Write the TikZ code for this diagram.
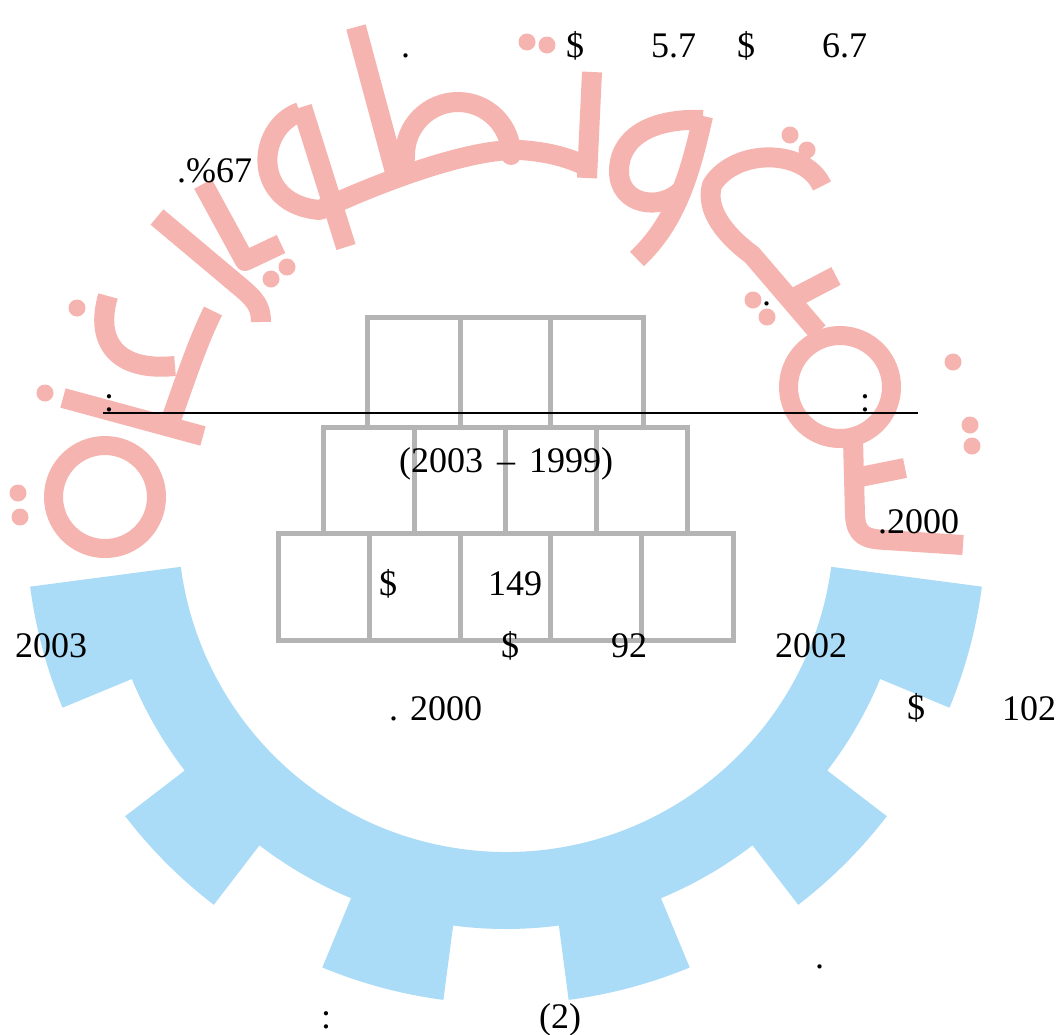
\documentclass[tikz,border=0pt]{standalone}
\usepackage{fontspec}
\setmainfont{Liberation Serif}
\definecolor{logored}{RGB}{245,180,175}
\definecolor{gearblue}{RGB}{170,220,248}
\definecolor{boxgray}{RGB}{180,180,180}
\tikzset{
  redstroke/.style={draw=logored, line width=20pt, line join=round},
  reddot/.style={fill=logored},
  boxline/.style={draw=boxgray, line width=5pt},
  txt/.style={anchor=base west, inner sep=0pt, font=\fontsize{36}{43}\selectfont}
}
\begin{document}
\begin{tikzpicture}[x=1pt,y=-1pt]
\useasboundingbox (0,0) rectangle (1064,1034);
\fill[white] (0,0) rectangle (1064,1034);

% gear
\begin{scope}[shift={(506,524)}]
\fill[gearblue] (172.5:328) -- (172.5:480)
  arc[start angle=172.5, end angle=157.5, radius=480] -- (157.5:405)
  arc[start angle=157.5, end angle=142.5, radius=405] -- (142.5:480)
  arc[start angle=142.5, end angle=127.5, radius=480] -- (127.5:405)
  arc[start angle=127.5, end angle=112.5, radius=405] -- (112.5:480)
  arc[start angle=112.5, end angle=97.5, radius=480] -- (97.5:405)
  arc[start angle=97.5, end angle=82.5, radius=405] -- (82.5:480)
  arc[start angle=82.5, end angle=67.5, radius=480] -- (67.5:405)
  arc[start angle=67.5, end angle=52.5, radius=405] -- (52.5:480)
  arc[start angle=52.5, end angle=37.5, radius=480] -- (37.5:405)
  arc[start angle=37.5, end angle=22.5, radius=405] -- (22.5:480)
  arc[start angle=22.5, end angle=7.5, radius=480] -- (7.5:328)
  arc[start angle=7.5, end angle=172.5, radius=328] -- cycle;
\end{scope}

% red logo strokes
\draw[redstroke, line width=19pt] (105,497) circle[radius=51.5];
\draw[redstroke, line width=19pt] (840,387) circle[radius=51.5];
\draw[redstroke] (63,398) -- (203,436);
\draw[redstroke] (213,311) .. controls (196,345) and (182,390) .. (168,428);
\draw[redstroke] (108,296) .. controls (95,340) and (115,372) .. (175,366);
\draw[redstroke] (157,217) -- (238,285) .. controls (255,299) and (261,306) .. (261,322);
\draw[redstroke] (203,184) -- (245,261) -- (281,244);
\draw[redstroke] (302,107) -- (346,247);
\draw[redstroke] (300,112) .. controls (255,128) and (252,205) .. (320,210)
  .. controls (380,182) and (470,148) .. (520,150)
  .. controls (550,152) and (570,158) .. (590,168);
\draw[redstroke] (592,72) -- (587,178);
\draw[redstroke] (356,27) -- (395,172);
\draw[redstroke] (404,172) -- (405,155) arc[start angle=180, end angle=360, radius=53] -- (511,152);
\draw[redstroke] (703,116) .. controls (690,175) and (676,222) .. (637,259);
\draw[redstroke] (703,120) .. controls (655,118) and (620,135) .. (619,170)
  .. controls (618,205) and (660,212) .. (682,190);
\draw[redstroke] (822,186) .. controls (805,148) and (735,148) .. (712,185)
  .. controls (705,210) and (725,235) .. (752,255) -- (818,332);
\draw[redstroke] (790,300) -- (836,276);
\draw[redstroke] (853,440) -- (855,515) .. controls (856,536) and (866,539) .. (886,540) -- (963,545);
\draw[redstroke] (855,478) -- (905,468);
\foreach \p in {(18,493),(20,517),(45,393),(77,308),(271,279),(287,267),(527,42),(547,45),(790,135),(807,150),(753,300),(767,317),(953,362),(970,425),(972,446)}
  \fill[reddot] \p circle[radius=8.5];

% gray boxes
\draw[boxline] (367,317) rectangle (643,427);
\draw[boxline] (460,317) -- (460,427) (550,317) -- (550,427);
\draw[boxline] (323,427) rectangle (687,533);
\draw[boxline] (414,427) -- (414,533) (505,427) -- (505,533) (596,427) -- (596,533);
\draw[boxline] (278,533) rectangle (733,640);
\draw[boxline] (369,533) -- (369,640) (460,533) -- (460,640) (550,533) -- (550,640) (641,533) -- (641,640);

% black rule
\coordinate (ruleL) at (103,413);
\coordinate (ruleR) at (918,413);
\draw[black, line width=2pt] (ruleL) -- (ruleR);

% texts
\node[txt] (t1) at (401,57) {.};
\node[txt] (t2) at (566,57) {\$};
\node[txt] (t3) at (651,57) {5.7};
\node[txt] (t4) at (737,57) {\$};
\node[txt] (t5) at (822,57) {6.7};
\node[txt] (t6) at (177,182) {.\%67};
\node[txt] (t7) at (762,305) {.};
\node[txt] (t8) at (104,411) {:};
\node[txt] (t9) at (860,411) {:};
\node[txt] (t10) at (399,472) {(2003\hspace{14pt}–\hspace{14pt}1999)};
\node[txt] (t11) at (878,533) {.2000};
\node[txt] (t12) at (379,595) {\$};
\node[txt] (t13) at (488,595) {149};
\node[txt] (t14) at (15,657) {2003};
\node[txt] (t15) at (501,657) {\$};
\node[txt] (t16) at (611,657) {92};
\node[txt] (t17) at (775,657) {2002};
\node[txt] (t18) at (389,720) {. 2000};
\node[txt] (t19) at (907,719) {\$};
\node[txt] (t20) at (1002,720) {102};
\node[txt] (t21) at (815,968) {.};
\node[txt] (t22) at (321,1028) {:};
\node[txt] (t23) at (539,1028) {(2)};
\end{tikzpicture}
\end{document}
